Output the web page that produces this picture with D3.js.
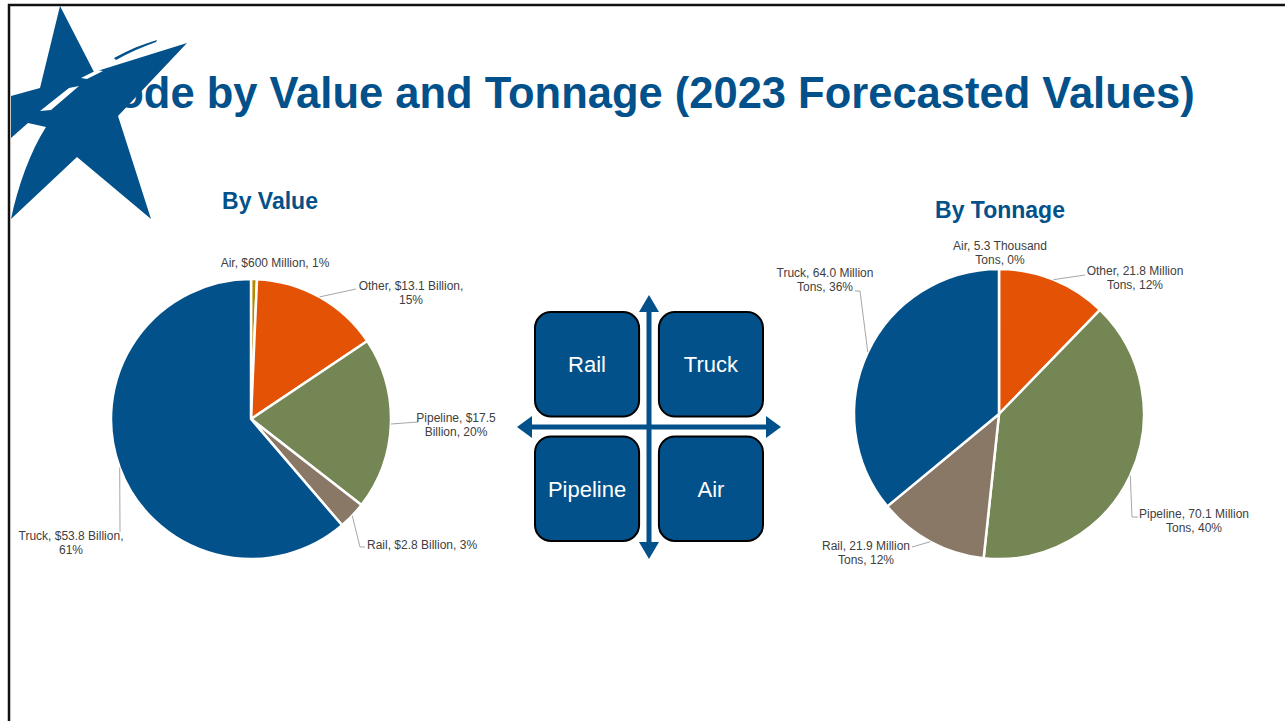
<!DOCTYPE html>
<html>
<head>
<meta charset="utf-8">
<script src="https://cdn.jsdelivr.net/npm/d3@7"></script>
<style>
  html, body { margin: 0; padding: 0; background: #fff; }
  svg { display: block; font-family: "Liberation Sans", Arial, sans-serif; }
</style>
</head>
<body>
<div id="slide"></div>
<script>
// data
const modes = ["Air", "Other", "Pipeline", "Rail", "Truck"];
const valueBillions = [0.6, 13.1, 17.5, 2.8, 53.8];
const tonnageMillions = [0.0053, 21.8, 70.1, 21.9, 64.0];
const valueLabels = [
  ["Air, $600 Million, 1%"],
  ["Other, $13.1 Billion,", "15%"],
  ["Pipeline, $17.5", "Billion, 20%"],
  ["Rail, $2.8 Billion, 3%"],
  ["Truck, $53.8 Billion,", "61%"]
];
const tonnageLabels = [
  ["Air, 5.3 Thousand", "Tons, 0%"],
  ["Other, 21.8 Million", "Tons, 12%"],
  ["Pipeline, 70.1 Million", "Tons, 40%"],
  ["Rail, 21.9 Million", "Tons, 12%"],
  ["Truck, 64.0 Million", "Tons, 36%"]
];
const quadrantNames = ["Rail", "Truck", "Pipeline", "Air"];

const W = 1285, H = 721;
const blue = "#02518a";
const modeColor = d3.scaleOrdinal()
  .domain(modes)
  .range(["#b48a00", "#e35205", "#748654", "#8a7866", blue]);

const svg = d3.select("#slide").append("svg")
  .attr("width", W).attr("height", H);

// slide frame
svg.append("line").attr("x1", 8).attr("x2", W).attr("y1", 5).attr("y2", 5)
  .attr("stroke", "#111").attr("stroke-width", 2.5);
svg.append("line").attr("x1", 9).attr("x2", 9).attr("y1", 4).attr("y2", H)
  .attr("stroke", "#111").attr("stroke-width", 2.5);

// title
svg.append("text")
  .attr("x", 81).attr("y", 108)
  .attr("fill", blue)
  .style("font-size", "43.5px").style("font-weight", "bold")
  .text("Mode by Value and Tonnage (2023 Forecasted Values)");

// star logo over the title
const logo = svg.append("g");
logo.append("path")
  .attr("d", "M60,6 L94,72 L187,43 L118,116 L151,219 L77,157 L11,219 C18,186 30,152 46,127 L28,123 L11,138 L11,96 L40,88 Z")
  .attr("fill", blue);
logo.append("path")
  .attr("d", "M40,111 L69,88 L79,86 L51,110 Z M81,78 L97,70 L103,71 L87,79 Z")
  .attr("fill", "#fff");
logo.append("path")
  .attr("d", "M114,58 C128,50 143,44 157,40 L156,42 C142,47 128,53 116,60 Z")
  .attr("fill", blue);

// pies
const pie = d3.pie().sort(null).value(d => d);

function drawPie(opts) {
  const g = svg.append("g").attr("transform", `translate(${opts.cx},${opts.cy})`);
  const arcs = pie(opts.values);
  const arc = d3.arc().innerRadius(0).outerRadius(opts.r);

  g.selectAll("path.slice")
    .data(arcs)
    .join("path")
      .attr("class", "slice")
      .attr("d", arc)
      .attr("fill", (d, i) => modeColor(modes[i]))
      .attr("stroke", "#fff")
      .attr("stroke-width", 2.5)
      .attr("stroke-linejoin", "round");

  // leader lines from the middle of each slice's rim
  arcs.forEach((a, i) => {
    const lay = opts.layout[i];
    if (!lay.leader) return;
    const mid = (a.startAngle + a.endAngle) / 2;
    const start = [opts.cx + opts.r * Math.sin(mid), opts.cy - opts.r * Math.cos(mid)];
    svg.append("path")
      .attr("d", d3.line()([start, ...lay.leader]))
      .attr("fill", "none")
      .attr("stroke", "#a6a6a6")
      .attr("stroke-width", 1);
  });

  opts.labels.forEach((lines, i) => {
    const lay = opts.layout[i];
    const t = svg.append("text")
      .attr("x", lay.x).attr("y", lay.y)
      .attr("text-anchor", lay.anchor || "middle")
      .attr("fill", "#404040")
      .style("font-size", "12px");
    lines.forEach((ln, k) => {
      t.append("tspan").attr("x", lay.x).attr("dy", k === 0 ? 0 : 13.5).text(ln);
    });
  });

  svg.append("text")
    .attr("x", opts.titleX).attr("y", opts.titleY)
    .attr("text-anchor", "middle")
    .attr("fill", blue)
    .style("font-size", "23px").style("font-weight", "bold")
    .text(opts.title);
}

drawPie({
  cx: 251, cy: 419, r: 140,
  values: valueBillions,
  labels: valueLabels,
  title: "By Value", titleX: 270, titleY: 209,
  layout: [
    { x: 275, y: 267 },
    { x: 411, y: 290, leader: [[356, 289]] },
    { x: 456, y: 422, leader: [[418, 422]] },
    { x: 367, y: 549, anchor: "start", leader: [[360, 547], [365, 547]] },
    { x: 71, y: 540, leader: [[120, 532]] }
  ]
});

drawPie({
  cx: 999, cy: 414, r: 145,
  values: tonnageMillions,
  labels: tonnageLabels,
  title: "By Tonnage", titleX: 1000, titleY: 218,
  layout: [
    { x: 1000, y: 250 },
    { x: 1135, y: 275, leader: [[1085, 275]] },
    { x: 1194, y: 518, leader: [[1132, 517], [1138, 517]] },
    { x: 866, y: 550, leader: [[912, 547]] },
    { x: 825, y: 277, leader: [[860, 291], [855, 291]] }
  ]
});

// centre quadrant graphic
const quad = svg.append("g");
const qx = d3.scaleBand().domain([0, 1]).range([535, 763]).paddingInner(0.16);
const qy = d3.scaleBand().domain([0, 1]).range([312, 541]).paddingInner(0.16);
quad.selectAll("rect")
  .data(quadrantNames)
  .join("rect")
    .attr("x", (d, i) => qx(i % 2))
    .attr("y", (d, i) => qy(Math.floor(i / 2)))
    .attr("width", qx.bandwidth())
    .attr("height", qy.bandwidth())
    .attr("rx", 16)
    .attr("fill", blue)
    .attr("stroke", "#000")
    .attr("stroke-width", 2);
quad.selectAll("text")
  .data(quadrantNames)
  .join("text")
    .attr("x", (d, i) => qx(i % 2) + qx.bandwidth() / 2)
    .attr("y", (d, i) => qy(Math.floor(i / 2)) + qy.bandwidth() / 2 + 8)
    .attr("text-anchor", "middle")
    .attr("fill", "#fff")
    .style("font-size", "22px")
    .text(d => d);

// double-headed arrows
const ax = 649, ay = 427;
quad.append("rect").attr("x", ax - 2.5).attr("y", 308).attr("width", 5).attr("height", 238).attr("fill", blue);
quad.append("rect").attr("x", 530).attr("y", ay - 2.5).attr("width", 238).attr("height", 5).attr("fill", blue);
quad.append("path").attr("fill", blue)
  .attr("d", `M${ax},295 L${ax + 10},312 L${ax - 10},312 Z
              M${ax},559 L${ax + 10},542 L${ax - 10},542 Z
              M517,${ay} L532,${ay - 11} L532,${ay + 11} Z
              M781,${ay} L766,${ay - 11} L766,${ay + 11} Z`);
</script>
</body>
</html>
